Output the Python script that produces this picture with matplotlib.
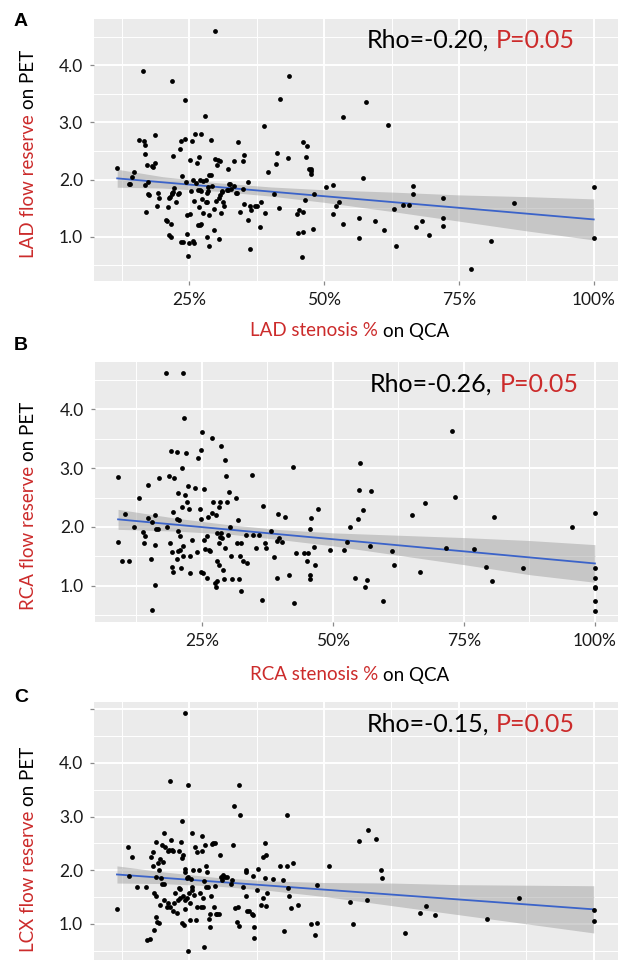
import matplotlib
matplotlib.use("Agg")
import matplotlib.pyplot as plt
from matplotlib.text import Annotation
from matplotlib.ticker import MultipleLocator, FuncFormatter

plt.rcParams['font.family'] = ['Lato', 'DejaVu Sans']

# stenosis % on QCA, flow reserve on PET
lad_points = [
    (11.5, 2.21), (13.7, 1.92), (13.9, 1.93), (14.3, 2.05), (14.8, 2.13), (15.6, 2.70),
    (16.3, 3.91), (16.6, 2.67), (16.7, 2.60), (16.7, 2.44), (16.7, 1.90), (16.9, 1.43),
    (17.1, 2.26), (17.3, 1.96), (17.3, 1.75), (17.5, 1.73), (18.1, 2.23), (18.3, 2.22),
    (18.6, 2.29), (18.7, 2.78), (19.0, 1.53), (19.2, 1.77), (19.4, 1.67), (20.6, 1.29),
    (20.9, 1.27), (21.0, 1.51), (21.2, 1.67), (21.3, 1.02), (21.5, 0.99), (21.5, 1.22),
    (21.4, 1.70), (21.7, 1.75), (21.8, 1.77), (21.8, 3.73), (21.9, 2.42), (22.0, 1.78),
    (22.1, 1.85), (22.5, 1.60), (22.9, 1.75), (23.1, 1.77), (23.3, 2.53), (23.5, 2.68),
    (23.5, 0.91), (23.7, 2.07), (23.8, 0.91), (24.1, 2.71), (24.2, 3.39), (24.3, 1.96),
    (24.5, 1.05), (24.6, 1.37), (24.8, 0.65), (24.9, 0.88), (25.2, 1.39), (25.2, 2.35),
    (25.3, 1.80), (25.5, 2.67), (25.6, 1.99), (25.7, 0.92), (25.9, 0.88), (25.9, 1.63),
    (26.1, 2.80), (26.3, 1.94), (26.4, 2.29), (26.5, 1.82), (26.5, 1.20), (26.7, 2.39),
    (26.8, 1.51), (26.9, 1.20), (27.0, 1.82), (27.0, 1.99), (27.2, 2.79), (27.2, 1.80),
    (27.2, 1.22), (27.3, 1.66), (27.5, 1.98), (27.6, 1.41), (27.8, 3.11), (28.0, 1.99),
    (28.0, 1.60), (28.2, 1.00), (28.3, 1.76), (28.3, 1.60), (28.5, 1.80), (28.5, 1.87),
    (28.6, 0.84), (28.6, 1.38), (28.7, 2.08), (29.0, 2.08), (29.0, 2.70), (29.1, 1.89),
    (29.6, 1.49), (29.6, 1.12), (29.8, 4.60), (29.8, 2.36), (29.9, 1.63), (30.1, 2.26),
    (30.3, 2.35), (30.4, 1.67), (30.4, 0.95), (30.6, 2.32), (30.7, 1.73), (30.8, 1.41),
    (31.0, 1.78), (31.1, 1.80), (31.3, 1.60), (31.4, 1.54), (31.9, 1.82), (32.1, 2.19),
    (32.2, 1.81), (32.4, 1.92), (32.5, 1.93), (32.7, 1.83), (33.2, 1.89), (33.3, 2.32),
    (33.6, 1.77), (33.9, 1.77), (34.1, 2.65), (34.4, 1.43), (35.0, 2.33), (35.1, 2.43),
    (35.0, 1.84), (35.1, 1.57), (35.8, 1.96), (35.8, 1.29), (36.3, 0.78), (36.3, 1.54),
    (36.4, 1.46), (37.1, 1.54), (37.5, 1.54), (38.0, 1.17), (38.2, 1.60), (38.9, 2.94),
    (39.0, 1.41), (39.5, 2.13), (40.7, 1.74), (41.0, 2.27), (41.3, 2.46), (41.6, 1.50),
    (41.8, 3.42), (43.2, 2.38), (43.4, 3.81), (45.0, 1.39), (45.1, 1.07), (45.3, 1.46),
    (45.8, 0.64), (46.1, 2.65), (46.1, 1.43), (46.1, 1.08), (46.5, 1.64), (46.7, 2.40),
    (46.8, 2.58), (47.1, 2.19), (47.5, 2.15), (47.5, 2.10), (47.6, 2.19), (48.0, 1.13),
    (48.1, 1.74), (50.4, 1.87), (51.6, 1.90), (51.6, 1.39), (52.2, 1.53), (52.8, 1.60),
    (53.5, 3.10), (53.5, 1.22), (56.5, 1.33), (56.4, 0.98), (57.2, 2.02), (57.7, 3.36),
    (59.5, 1.28), (61.1, 1.11), (61.8, 2.95), (62.9, 1.49), (63.4, 0.84), (64.7, 1.55),
    (65.7, 1.55), (66.5, 1.89), (66.5, 1.74), (67.1, 1.16), (68.1, 1.28), (69.5, 1.02),
    (72.1, 1.67), (72.1, 1.33), (72.1, 1.18), (77.3, 0.43), (81.0, 0.93), (85.3, 1.58),
    (100, 1.87), (100, 0.98),
]

rca_points = [
    (8.9, 2.85), (9.0, 1.74), (9.8, 1.42), (10.4, 2.22), (11.1, 1.42), (12.0, 2.00),
    (13.0, 2.50), (13.8, 1.91), (14.0, 1.73), (14.2, 1.85), (14.8, 2.72), (14.8, 2.16),
    (15.2, 1.46), (15.4, 2.08), (15.5, 0.59), (16.0, 2.21), (16.0, 1.02), (16.0, 1.70),
    (16.2, 1.96), (16.7, 1.96), (16.9, 2.84), (18.1, 4.61), (18.4, 2.00), (18.8, 2.87),
    (18.9, 1.73), (19.1, 3.30), (19.2, 1.32), (19.4, 2.26), (19.5, 1.24), (19.2, 1.57),
    (19.7, 2.84), (20.2, 2.13), (20.2, 1.45), (20.3, 3.28), (20.5, 2.57), (20.5, 1.94),
    (20.5, 1.60), (20.6, 2.12), (20.8, 1.85), (20.8, 1.61), (21.1, 1.30), (21.2, 3.00),
    (21.2, 2.34), (21.3, 1.51), (21.4, 4.61), (21.4, 1.68), (21.6, 3.86), (21.8, 2.54),
    (21.9, 3.25), (22.1, 2.43), (22.4, 2.70), (22.5, 2.30), (22.7, 1.51), (22.8, 1.21),
    (23.2, 1.78), (23.7, 2.67), (24.1, 1.57), (24.2, 3.17), (24.7, 2.30), (24.8, 3.31),
    (24.9, 2.13), (25.0, 3.62), (24.9, 1.24), (25.2, 1.21), (25.4, 1.78), (25.4, 2.64),
    (25.6, 1.63), (25.9, 1.85), (26.0, 1.13), (26.2, 2.17), (26.3, 1.61), (26.5, 1.59),
    (26.9, 2.23), (27.0, 3.51), (27.1, 2.43), (27.5, 1.04), (27.6, 0.98), (27.7, 2.20),
    (27.8, 1.43), (27.9, 1.89), (27.9, 1.09), (28.2, 2.34), (28.2, 1.73), (28.3, 1.35),
    (28.4, 1.83), (28.5, 2.43), (28.6, 3.38), (28.6, 1.90), (28.8, 1.81), (29.1, 1.27),
    (29.2, 1.11), (29.5, 3.14), (29.5, 1.65), (29.6, 2.87), (29.7, 2.42), (30.0, 1.86),
    (30.2, 2.59), (30.3, 2.00), (30.5, 1.51), (30.7, 1.11), (31.5, 2.50), (31.7, 1.73),
    (31.8, 2.12), (32.1, 1.11), (32.3, 1.51), (32.4, 1.73), (32.4, 0.91), (32.8, 1.43),
    (33.5, 1.86), (33.7, 1.38), (34.6, 2.88), (34.8, 1.86), (35.4, 1.65), (35.9, 1.86),
    (36.4, 0.76), (36.7, 2.36), (37.0, 1.73), (37.2, 1.65), (38.1, 1.93), (38.7, 1.49),
    (39.3, 1.77), (39.4, 1.13), (39.6, 2.22), (39.8, 1.81), (40.2, 1.74), (40.8, 2.17),
    (41.7, 1.18), (42.4, 3.02), (42.6, 0.71), (43.0, 1.56), (44.4, 1.56), (45.1, 1.43),
    (45.3, 1.56), (45.8, 2.15), (45.6, 1.96), (45.6, 1.18), (45.6, 1.11), (46.3, 1.66),
    (46.6, 1.35), (47.2, 2.30), (49.5, 1.61), (52.2, 1.61), (52.6, 1.75), (53.2, 2.00),
    (54.3, 1.14), (54.7, 2.14), (55.0, 2.63), (55.2, 3.09), (55.7, 2.29), (56.1, 0.98),
    (56.5, 1.10), (57.0, 1.68), (57.3, 2.61), (59.6, 0.75), (61.2, 1.60), (61.6, 1.35),
    (65.1, 2.21), (66.7, 1.24), (67.5, 2.40), (71.5, 1.65), (72.7, 3.64), (73.3, 2.51),
    (77.0, 1.63), (79.2, 1.32), (80.4, 1.09), (80.8, 2.17), (86.2, 1.30), (95.7, 2.00),
    (100, 2.24), (100, 1.30), (100, 1.14), (100, 0.98), (100, 0.96), (100, 0.74),
    (100, 0.58),
]

lcx_points = [
    (11.6, 1.27), (13.7, 2.43), (13.9, 1.90), (14.3, 2.25), (15.4, 1.69), (16.9, 1.68),
    (17.2, 0.70), (17.7, 0.72), (18.0, 2.24), (18.2, 2.34), (18.3, 2.07), (18.4, 1.57),
    (18.5, 0.88), (18.8, 2.53), (18.9, 1.88), (18.9, 1.51), (18.9, 1.12), (19.1, 1.04),
    (19.2, 2.14), (19.4, 1.02), (19.4, 2.00), (19.6, 2.20), (19.6, 1.35), (19.7, 1.85),
    (19.9, 1.74), (20.0, 2.46), (20.2, 2.16), (20.3, 2.69), (20.3, 1.74), (20.4, 1.44),
    (20.6, 2.44), (20.8, 1.32), (21.0, 2.36), (21.1, 1.38), (21.3, 2.38), (21.4, 1.32),
    (21.5, 3.66), (21.7, 2.56), (21.8, 2.38), (21.9, 1.23), (22.0, 2.36), (22.2, 1.38),
    (22.3, 1.57), (22.8, 1.21), (23.0, 1.44), (23.1, 1.66), (23.1, 2.36), (23.2, 1.64),
    (23.3, 1.49), (23.5, 2.53), (23.6, 2.22), (23.6, 2.92), (23.6, 1.01), (23.8, 2.28),
    (23.9, 1.51), (24.0, 0.98), (24.2, 1.97), (24.2, 1.44), (24.3, 4.93), (24.3, 2.03),
    (24.3, 1.27), (24.5, 1.49), (24.6, 1.86), (24.7, 1.87), (24.8, 3.59), (24.8, 0.49),
    (24.9, 1.57), (25.1, 1.38), (25.2, 1.08), (25.4, 1.83), (25.5, 1.63), (25.6, 2.69),
    (25.6, 1.69), (25.7, 2.00), (25.9, 1.54), (26.1, 2.43), (26.2, 1.07), (26.4, 1.31),
    (26.5, 2.33), (26.8, 2.00), (27.0, 1.57), (27.2, 1.32), (27.3, 2.64), (27.3, 2.36),
    (27.5, 1.48), (27.6, 1.32), (27.7, 1.79), (27.8, 0.56), (27.9, 2.47), (28.1, 2.08),
    (28.2, 1.69), (28.3, 1.97), (28.5, 1.69), (28.6, 1.09), (28.8, 0.95), (28.9, 1.19),
    (29.1, 1.52), (29.3, 2.49), (29.5, 2.51), (29.6, 1.32), (29.8, 2.50), (29.8, 1.71),
    (30.0, 1.18), (30.2, 1.19), (30.5, 1.19), (30.7, 2.28), (30.8, 1.87), (31.1, 1.88),
    (31.1, 1.82), (31.3, 1.91), (31.7, 1.87), (32.0, 1.88), (32.7, 1.75), (32.9, 1.82),
    (33.2, 2.46), (33.3, 3.19), (33.5, 1.29), (33.8, 1.04), (34.0, 1.32), (34.2, 3.59),
    (34.3, 0.96), (34.4, 3.02), (35.0, 1.69), (35.5, 1.51), (35.5, 2.00), (35.6, 1.97),
    (35.8, 1.23), (36.0, 1.23), (36.6, 1.19), (36.8, 1.90), (36.9, 1.16), (37.1, 0.95),
    (37.1, 0.73), (37.6, 1.63), (37.8, 2.02), (38.3, 1.35), (38.6, 2.25), (38.7, 1.49),
    (39.0, 1.85), (39.0, 2.50), (39.2, 1.33), (39.3, 2.28), (39.5, 1.57), (40.5, 1.84),
    (41.8, 2.07), (42.4, 1.81), (42.6, 0.87), (43.1, 2.07), (43.2, 3.02), (43.3, 1.66),
    (43.5, 1.52), (43.8, 1.29), (44.3, 2.14), (45.2, 1.35), (47.5, 1.00), (48.3, 0.79),
    (48.6, 1.02), (48.7, 1.72), (51.0, 2.08), (54.8, 1.41), (55.4, 1.00), (56.5, 2.55),
    (58.0, 1.45), (58.2, 2.74), (59.6, 2.58), (60.6, 2.00), (60.8, 1.85), (65.0, 0.83),
    (67.8, 1.21), (68.9, 1.33), (70.6, 1.16), (80.2, 1.09), (86.2, 1.49), (100, 1.25),
    (100, 1.05),
]

# linear fit line and 95% band
lad_fit_x = [11.6, 100]
lad_fit_y = [2.02, 1.30]
rca_fit_x = [9.0, 100]
rca_fit_y = [2.13, 1.38]
lcx_fit_x = [11.6, 100]
lcx_fit_y = [1.92, 1.27]

lad_band_x = [11.6, 20, 30, 40, 50, 62.5, 75, 87.5, 100]
lad_band_hi = [2.18, 2.05, 1.945, 1.87, 1.82, 1.78, 1.73, 1.70, 1.66]
lad_band_lo = [1.865, 1.85, 1.795, 1.71, 1.60, 1.44, 1.27, 1.10, 0.94]
rca_band_x = [9.0, 20, 30, 40, 50, 62.5, 75, 87.5, 100]
rca_band_hi = [2.30, 2.15, 2.04, 1.955, 1.90, 1.86, 1.82, 1.77, 1.70]
rca_band_lo = [1.96, 1.93, 1.88, 1.785, 1.68, 1.52, 1.36, 1.19, 1.06]
lcx_band_x = [11.6, 20, 30, 40, 50, 62.5, 75, 87.5, 100]
lcx_band_hi = [2.08, 1.97, 1.865, 1.80, 1.77, 1.76, 1.73, 1.72, 1.71]
lcx_band_lo = [1.76, 1.75, 1.705, 1.62, 1.51, 1.34, 1.17, 1.00, 0.83]

vessels = ['LAD', 'RCA', 'LCX']
rho_values = ['-0.20', '-0.26', '-0.15']
p_values = ['0.05', '0.05', '0.05']
panel_letters = ['A', 'B', 'C']

RED = '#cc2b2b'
W, H = 623, 960


def fx(px):
    return px / W


def fy(py):
    return (H - py) / H


def two_tone(fig, x, y, first, second, c1, c2, size, vertical=False):
    # second piece glued to the end of the first one
    if vertical:
        t1 = fig.text(x, y, first, color=c1, fontsize=size, rotation=90,
                      ha='center', va='bottom')
        t2 = Annotation(second, xy=(0, 1), xycoords=t1, xytext=(0, size * 0.27),
                        textcoords='offset points', rotation=90, ha='left',
                        va='bottom', color=c2, fontsize=size)
    else:
        t1 = fig.text(x, y, first, color=c1, fontsize=size, ha='left', va='center')
        t2 = Annotation(second, xy=(1, 0), xycoords=t1, xytext=(size * 0.27, 0),
                        textcoords='offset points', ha='left', va='bottom',
                        color=c2, fontsize=size)
    fig.add_artist(t2)


def y_fmt(v, pos):
    if v > 4.9:
        return ''
    return f'{v:.1f}'


fig = plt.figure(figsize=(W / 100, H / 100), dpi=100)

# axes boxes in pixels: left, top, right, bottom
boxes = [(94, 19.3, 618, 281), (95, 361.7, 618, 621.7), (94.3, 701.7, 618, 963)]
xlims = [(7.3, 104.5), (4.6, 104.4), (7.4, 104.5)]
ylims = [(0.22, 4.81), (0.39, 4.81), (0.27, 5.14)]
all_points = [lad_points, rca_points, lcx_points]
fits = [(lad_fit_x, lad_fit_y), (rca_fit_x, rca_fit_y), (lcx_fit_x, lcx_fit_y)]
bands = [(lad_band_x, lad_band_lo, lad_band_hi),
         (rca_band_x, rca_band_lo, rca_band_hi),
         (lcx_band_x, lcx_band_lo, lcx_band_hi)]
ylabel_bottom = [258, 610, 952]
xlabel_y = [331, 675, None]
note_xy = [(366.7, 40), (370, 384), (366.7, 724)]
letter_y = [21, 345, 698]

for i in range(3):
    l, t, r, b = boxes[i]
    ax = fig.add_axes([fx(l), fy(b), (r - l) / W, (b - t) / H])
    ax.set_facecolor('#ebebeb')
    for s in ax.spines.values():
        s.set_visible(False)

    bx, blo, bhi = bands[i]
    ax.fill_between(bx, blo, bhi, color='#999999', alpha=0.45, lw=0, zorder=2)
    ax.plot(fits[i][0], fits[i][1], color='#3b63c9', lw=1.3, zorder=3)
    xs = [p[0] for p in all_points[i]]
    ys = [p[1] for p in all_points[i]]
    ax.scatter(xs, ys, s=12, color='black', lw=0, zorder=4)

    ax.set_xlim(*xlims[i])
    ax.set_ylim(*ylims[i])
    ax.xaxis.set_major_locator(MultipleLocator(25))
    ax.xaxis.set_minor_locator(MultipleLocator(12.5))
    ax.yaxis.set_major_locator(MultipleLocator(1))
    ax.yaxis.set_minor_locator(MultipleLocator(0.5))
    ax.xaxis.set_major_formatter(FuncFormatter(lambda v, pos: f'{int(round(v))}%'))
    ax.yaxis.set_major_formatter(FuncFormatter(y_fmt))
    ax.set_axisbelow(True)
    ax.grid(which='major', color='white', lw=1.4)
    ax.grid(which='minor', color='white', lw=0.7)
    ax.tick_params(which='major', length=3, width=0.9, color='#8a8a8a',
                   labelsize=12.5, labelcolor='#1a1a1a', pad=5)
    ax.tick_params(which='minor', length=0)

    v = vessels[i]
    two_tone(fig, fx(28), fy(ylabel_bottom[i]), f'{v} flow reserve', 'on PET',
             RED, 'black', 13.5, vertical=True)
    if xlabel_y[i] is not None:
        two_tone(fig, fx(250), fy(xlabel_y[i]), f'{v} stenosis %', 'on QCA',
                 RED, 'black', 13.5)
    else:
        # bottom panel is cropped: its x axis sits below the figure edge
        ax.tick_params(axis='x', labelbottom=False, length=0)
    nx, ny = note_xy[i]
    two_tone(fig, fx(nx), fy(ny), f'Rho={rho_values[i]},', f'P={p_values[i]}',
             'black', RED, 18)
    fig.text(fx(21), fy(letter_y[i]), panel_letters[i], fontsize=14,
             fontweight='bold', family='Liberation Sans', ha='center', va='center')

fig.savefig('out.png', dpi=100)
